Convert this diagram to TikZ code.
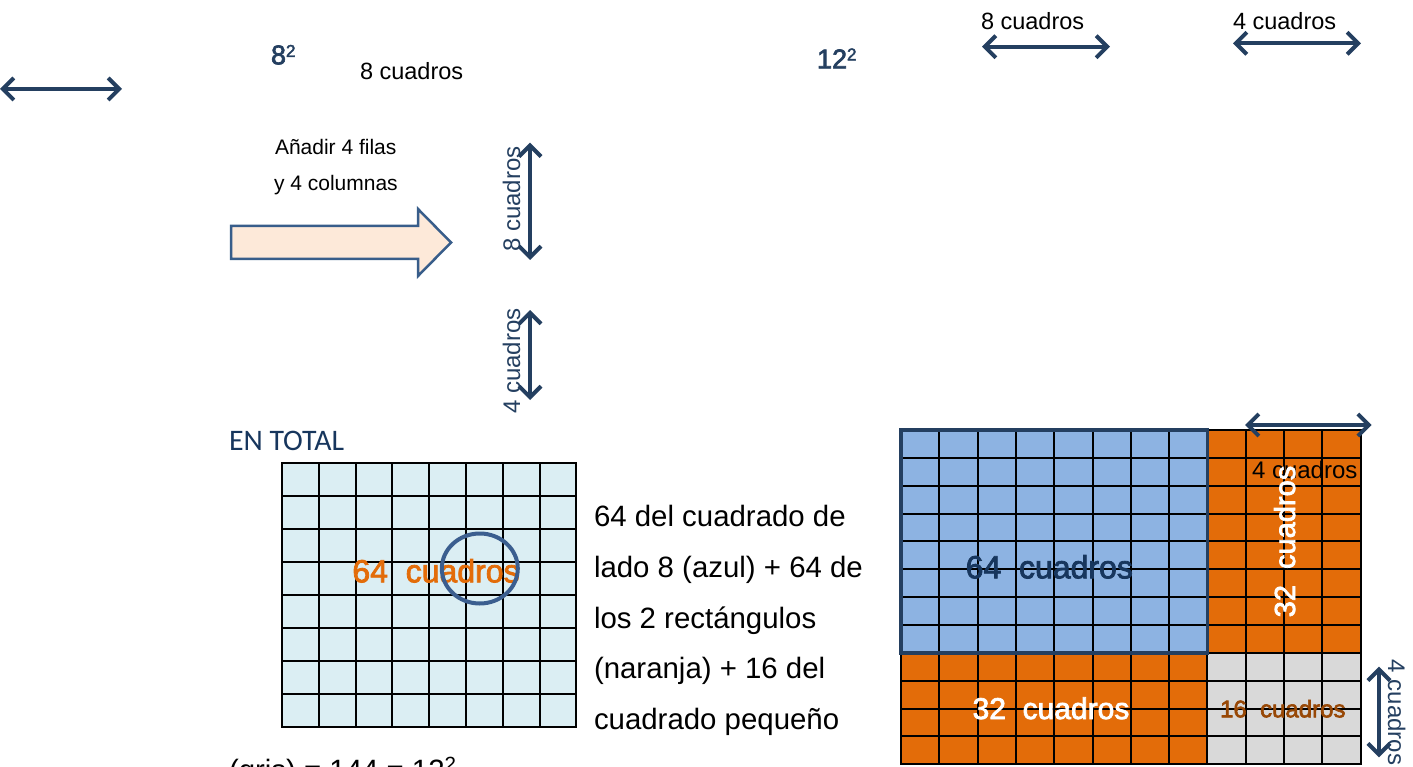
\documentclass[tikz,border=0pt]{standalone}
\usepackage{fontspec}
\setmainfont{Liberation Sans}
\newfontfamily\calibrifont{Carlito}
\newfontfamily\heavyfont{Liberation Sans}[FakeBold=2.5]
\usetikzlibrary{arrows.meta}
\definecolor{navy}{RGB}{36,63,96}
\definecolor{darknavy}{RGB}{23,54,93}
\definecolor{orangeF}{RGB}{227,108,9}
\definecolor{brownT}{RGB}{152,72,6}
\definecolor{blueF}{RGB}{141,179,226}
\definecolor{lightblueF}{RGB}{219,238,243}
\definecolor{grayF}{RGB}{217,217,217}
\definecolor{peachF}{RGB}{253,233,217}
\definecolor{arrowedge}{RGB}{56,93,138}
\definecolor{circleedge}{RGB}{59,94,143}
\newcommand{\fsz}[1]{\fontsize{#1}{#1}\selectfont}
\begin{document}
\begin{tikzpicture}[x=1pt,y=-1pt,
  dimarrow/.style={draw=navy, line width=4pt, arrows={Straight Barb[length=11pt,width=22pt]-Straight Barb[length=11pt,width=22pt]}},
  lbl/.style={inner sep=0pt, outer sep=0pt},
  gridline/.style={draw=black, line width=2pt},
]
\useasboundingbox (0,0) rectangle (1413,767);

% ---------- top texts ----------
\node[lbl, anchor=base west, text=navy, font=\heavyfont\fsz{27}] (t82) at (271,64.3) {8\raisebox{7.5pt}{\fsz{17}2}};
\node[lbl, anchor=base west, font=\fsz{23.5}] (t8c) at (360,80) {8 cuadros};
\node[lbl, anchor=base west, text=navy, font=\heavyfont\fsz{27}] (t122) at (817,68.3) {12\raisebox{8pt}{\fsz{17}2}};
\node[lbl, anchor=base west, font=\fsz{23.5}] (ttop8) at (981,29.3) {8 cuadros};
\node[lbl, anchor=base west, font=\fsz{23.5}] (ttop4) at (1233,29.3) {4 cuadros};
\node[lbl, anchor=base west, font=\fsz{21}] (tanadir) at (275,154.3) {Añadir 4 filas};
\node[lbl, anchor=base west, font=\fsz{21}] (ty4) at (274,191) {y 4 columnas};

% ---------- dimension arrows ----------
\coordinate (a1s) at (0,89);      \coordinate (a1e) at (122,89);
\coordinate (a2s) at (982,46.7);  \coordinate (a2e) at (1110,46.7);
\coordinate (a3s) at (1233,43.3); \coordinate (a3e) at (1361,43.3);
\coordinate (a4s) at (530,142.7); \coordinate (a4e) at (530,260);
\coordinate (a5s) at (530,310);   \coordinate (a5e) at (530,400);
\draw[dimarrow] (a1s) -- (a1e);
\draw[dimarrow] (a2s) -- (a2e);
\draw[dimarrow] (a3s) -- (a3e);
\draw[dimarrow] (a4s) -- (a4e);
\draw[dimarrow] (a5s) -- (a5e);
\node[lbl, anchor=base, rotate=90, text=navy, font=\fsz{24}] (tv8) at (520,199) {8 cuadros};
\node[lbl, anchor=base, rotate=90, text=navy, font=\fsz{24}] (tv4) at (520,361) {4 cuadros};

% ---------- block arrow ----------
\draw[fill=peachF, draw=arrowedge, line width=2.5pt, line join=miter]
  (231,226) -- (418,226) -- (418,209) -- (451,242.5) -- (418,276) -- (418,259) -- (231,259) -- cycle;

% ---------- EN TOTAL ----------
\node[lbl, anchor=base west, text=darknavy, font=\calibrifont\fsz{29.8}] (ten) at (229,450) {EN TOTAL};

% ---------- left grid ----------
\fill[lightblueF] (282,463) rectangle (576.4,727.4);
\foreach \i in {0,...,8} {
  \draw[gridline] ({282+36.8*\i},463) -- ({282+36.8*\i},727.4);
  \draw[gridline] (282,{463+33.05*\i}) -- (576.4,{463+33.05*\i});
}
\draw[gridline, line cap=rect] (282,463) rectangle (576.4,727.4);
\node[lbl, anchor=base, text=orangeF, font=\heavyfont\fsz{32}] (t64l) at (436,582.3) {64\ \ cuadros};
\draw[draw=circleedge, line width=4pt] (479.8,568.5) ellipse [x radius=38, y radius=35];

% ---------- explanation text ----------
\node[lbl, anchor=base west, font=\fsz{29.4}] (e1) at (594,526.5) {64 del cuadrado de};
\node[lbl, anchor=base west, font=\fsz{29.4}] (e2) at (594,577.3) {lado 8 (azul) + 64 de};
\node[lbl, anchor=base west, font=\fsz{29.4}] (e3) at (594,628) {los 2 rectángulos};
\node[lbl, anchor=base west, font=\fsz{29.4}] (e4) at (594,678.8) {(naranja) + 16 del};
\node[lbl, anchor=base west, font=\fsz{29.4}] (e5) at (594,729.6) {cuadrado pequeño};
\node[lbl, anchor=base west, font=\fsz{29.4}] (e6) at (229,780.4) {(gris) = 144 = 12\textsuperscript{2}};

% ---------- right grid ----------
\fill[blueF] (901,430) rectangle (1207.4,652.8);
\fill[orangeF] (1207.4,430) rectangle (1360.6,652.8);
\fill[orangeF] (901,652.8) rectangle (1207.4,764.2);
\fill[grayF] (1207.4,652.8) rectangle (1360.6,764.2);
\foreach \i in {0,...,12} {
  \draw[gridline] ({901+38.3*\i},430) -- ({901+38.3*\i},764.2);
  \draw[gridline] (901,{430+27.85*\i}) -- (1360.6,{430+27.85*\i});
}
\draw[gridline, line cap=rect] (901,430) rectangle (1360.6,764.2);
\draw[draw=navy, line width=3.5pt] (901,430) rectangle (1207.4,652.8);

\node[lbl, anchor=base, text=darknavy, font=\heavyfont\fsz{32}] (t64r) at (1049.3,578.3) {64\ \ cuadros};
\node[lbl, anchor=base, text=white, font=\heavyfont\fsz{30}] (t32b) at (1051,719) {32\ \ cuadros};
\node[lbl, anchor=base, text=brownT, font=\heavyfont\fsz{24}] (t16) at (1282.8,717.3) {16\ \ cuadros};
\node[lbl, anchor=base, font=\fsz{24}] (tg4) at (1304.7,478.3) {4 cuadros};
\node[lbl, anchor=base, rotate=90, text=white, font=\heavyfont\fsz{29}] (t32r) at (1295,541.5) {32\ \ cuadros};

\coordinate (a6s) at (1245,425);   \coordinate (a6e) at (1371.7,425);
\coordinate (a7s) at (1379,666.7); \coordinate (a7e) at (1379,757.3);
\draw[dimarrow] (a6s) -- (a6e);
\draw[dimarrow] (a7s) -- (a7e);
\node[lbl, anchor=base, rotate=-90, text=navy, font=\fsz{24}] (tvr4) at (1388,712.5) {4 cuadros};
\end{tikzpicture}
\end{document}
